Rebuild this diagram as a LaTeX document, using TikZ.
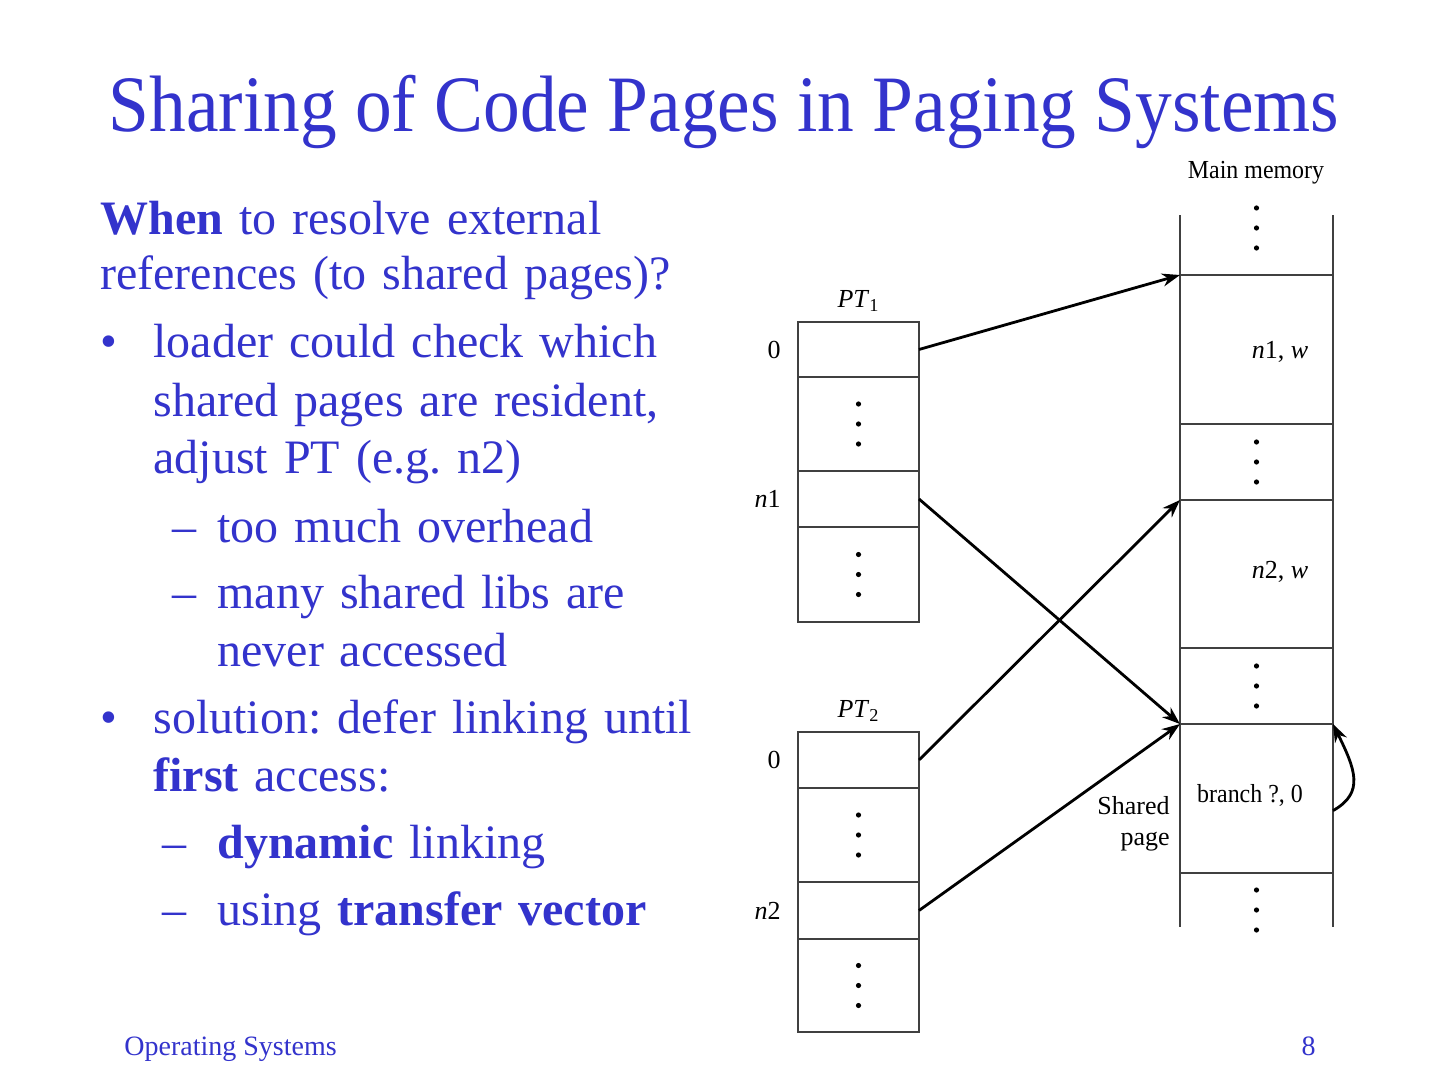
\documentclass[tikz,border=0pt]{standalone}
\usepackage{fontspec}
\setmainfont{Liberation Serif}
\usepackage{graphicx}
\usetikzlibrary{positioning, arrows.meta}
\definecolor{slideblue}{RGB}{51,51,204}
\frenchspacing

% three stacked dots in a cell
\newcommand{\stackdots}[1]{\foreach \dy in {-20,0,20} {\fill (#1) ++(0,\dy) circle (2.6);}}

\begin{document}
\begin{tikzpicture}[
      x=0.5pt, y=-0.5pt,
      % slide text
      title/.style={text=slideblue, font=\fontsize{40}{44}\selectfont, inner sep=0pt, anchor=base},
      body/.style={text=slideblue, font=\fontsize{24}{29}\selectfont, inner sep=0pt, anchor=base west},
      itemtext/.style={body, text width=300pt, align=left},
      foot/.style={text=slideblue, font=\fontsize{14}{16}\selectfont, inner sep=0pt},
      % page tables and main memory
      cell/.style={rectangle, draw=black!75, line width=0.7pt, minimum width=60.5pt, inner sep=0pt, outer sep=0pt},
      memcell/.style={rectangle, draw=black!75, line width=0.7pt, minimum width=76.5pt, inner sep=0pt, outer sep=0pt},
      lbl/.style={font=\fontsize{13}{15.5}\selectfont, inner sep=1pt},
      line/.style={draw, line width=1.4pt, -{Stealth[length=9pt, width=6.5pt]}}
    ]

    \useasboundingbox[fill=white] (0,0) rectangle (1440,1080);

    % --- title ---
    \node [title] (title) at (724,132) {\scalebox{0.917}[1]{Sharing of Code Pages in Paging Systems}};

    % --- left: text ---
    \node [itemtext, text width=320pt, font=\fontsize{24}{27.5}\selectfont] (question) at (100,235)
      {\textbf{When} to resolve external\\references (to shared pages)?};
    \node [body] (bulA) at (100,358) {•};
    \node [itemtext] (loader) at (153,358) {loader could check which\\shared pages are resident,\\adjust PT (e.g. n2)};
    \node [body] (dashA) at (172,542) {–};
    \node [itemtext] (overhead) at (217,542) {too much overhead};
    \node [body] (dashB) at (172,608) {–};
    \node [itemtext] (libs) at (217,608) {many shared libs are\\never accessed};
    \node [body] (bulB) at (100,733) {•};
    \node [itemtext] (solution) at (153,733) {solution: defer linking until\\\textbf{first} access:};
    \node [body] (dashC) at (162,858) {–};
    \node [itemtext] (dynamic) at (217,858) {\textbf{dynamic} linking};
    \node [body] (dashD) at (162,925) {–};
    \node [itemtext] (vector) at (217,925) {using \textbf{transfer vector}};

    % --- page table PT1 ---
    \node [cell, minimum height=27.5pt] (p1a) at (858.5,349.5) {};
    \node [cell, minimum height=47pt, below=0pt of p1a] (p1b) {};
    \node [cell, minimum height=28pt, below=0pt of p1b] (p1c) {};
    \node [cell, minimum height=47.5pt, below=0pt of p1c] (p1d) {};
    \node [lbl, above=4pt of p1a] (pt1) {\textit{PT}\textsubscript{1}};
    \node [lbl, left=7.5pt of p1a] (p1a0) {0};
    \node [lbl, left=7.5pt of p1c] (p1cn) {\textit{n}1};
    \stackdots{p1b}
    \stackdots{p1d}

    % --- page table PT2 ---
    \node [cell, minimum height=28pt] (p2a) at (858.5,760) {};
    \node [cell, minimum height=47pt, below=0pt of p2a] (p2b) {};
    \node [cell, minimum height=28.5pt, below=0pt of p2b] (p2c) {};
    \node [cell, minimum height=46.5pt, below=0pt of p2c] (p2d) {};
    \node [lbl, above=4pt of p2a] (pt2) {\textit{PT}\textsubscript{2}};
    \node [lbl, left=7.5pt of p2a] (p2a0) {0};
    \node [lbl, left=7.5pt of p2c] (p2cn) {\textit{n}2};
    \stackdots{p2b}
    \stackdots{p2d}

    % --- main memory ---
    \node [memcell, minimum height=74.5pt] (m1) at (1256.5,349.5) {};
    \node [memcell, minimum height=38pt, below=0pt of m1] (m2) {};
    \node [memcell, minimum height=74pt, below=0pt of m2] (m3) {};
    \node [memcell, minimum height=38pt, below=0pt of m3] (m4) {};
    \node [memcell, minimum height=74.5pt, below=0pt of m4] (m5) {};
    \draw [black!75, line width=0.7pt] (m1.north west) -- ++(0,-60) (m1.north east) -- ++(0,-60);
    \draw [black!75, line width=0.7pt] (m5.south west) -- ++(0,54) (m5.south east) -- ++(0,54);
    \coordinate (mtop) at (1256.5,228);
    \coordinate (mbot) at (1256.5,910);
    \stackdots{mtop}
    \stackdots{m2}
    \stackdots{m4}
    \stackdots{mbot}
    \node [lbl] (mainmem) at (1256,173) {\scalebox{0.92}[1]{Main memory}};
    \node [lbl] (n1w) at (1280,352) {\textit{n}1, \textit{w}};
    \node [lbl] (n2w) at (1280,572) {\textit{n}2, \textit{w}};
    \node [lbl] (branch) at (1250,795) {\scalebox{0.92}[1]{branch ?, 0}};
    \node [lbl, anchor=east, align=right] (shared) at (1172,824) {Shared\\page};

    % --- arrows ---
    \draw [line] (p1a.east) -- (m1.north west);
    \draw [line] (p1c.east) -- (m5.north west);
    \draw [line] (p2a.east) -- (m3.north west);
    \draw [line] (p2c.east) -- (m5.north west);
    \draw [line] (m5.-9) .. controls +(32,-18) and +(22,45) .. (m5.north east);

    % --- footer ---
    \node [foot, anchor=base west] (course) at (124,1055) {Operating Systems};
    \node [foot, anchor=base east] (pageno) at (1316,1055) {8};

    \end{tikzpicture}
\end{document}
